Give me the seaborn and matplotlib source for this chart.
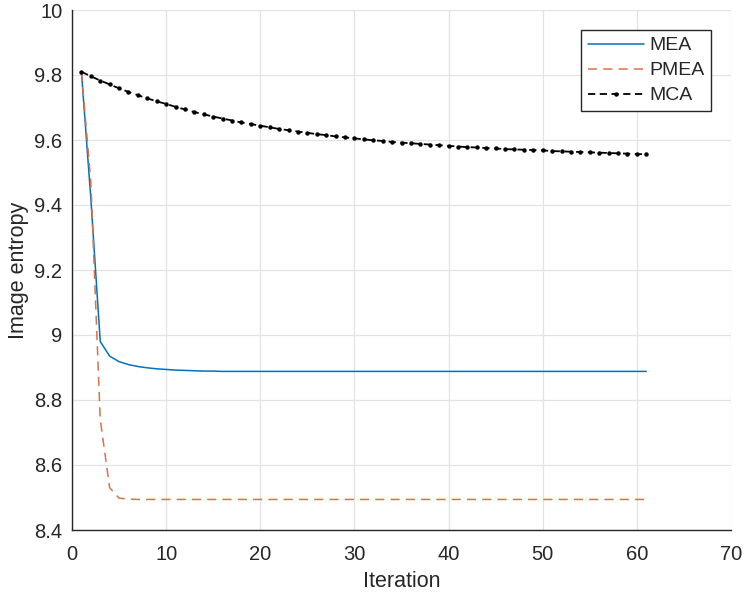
import matplotlib
matplotlib.use("Agg")
import matplotlib.pyplot as plt
import seaborn as sns
from matplotlib.ticker import FixedLocator, FixedFormatter

# 데이터
iteration = list(range(1, 62))

mea = [9.810, 9.420, 8.980, 8.935, 8.918, 8.909, 8.903, 8.899, 8.896, 8.894,
       8.892, 8.891, 8.890, 8.889, 8.889, 8.888, 8.888, 8.888, 8.888, 8.888,
       8.888, 8.888, 8.888, 8.888, 8.888, 8.888, 8.888, 8.888, 8.888, 8.888,
       8.888, 8.888, 8.888, 8.888, 8.888, 8.888, 8.888, 8.888, 8.888, 8.888,
       8.888, 8.888, 8.888, 8.888, 8.888, 8.888, 8.888, 8.888, 8.888, 8.888,
       8.888, 8.888, 8.888, 8.888, 8.888, 8.888, 8.888, 8.888, 8.888, 8.888,
       8.888]

pmea = [9.810, 9.470, 8.740, 8.530, 8.498, 8.495, 8.494, 8.494, 8.494, 8.494,
        8.494, 8.494, 8.494, 8.494, 8.494, 8.494, 8.494, 8.494, 8.494, 8.494,
        8.494, 8.494, 8.494, 8.494, 8.494, 8.494, 8.494, 8.494, 8.494, 8.494,
        8.494, 8.494, 8.494, 8.494, 8.494, 8.494, 8.494, 8.494, 8.494, 8.494,
        8.494, 8.494, 8.494, 8.494, 8.494, 8.494, 8.494, 8.494, 8.494, 8.494,
        8.494, 8.494, 8.494, 8.494, 8.494, 8.494, 8.494, 8.494, 8.494, 8.494,
        8.494]

mca = [9.810, 9.796, 9.783, 9.771, 9.759, 9.748, 9.738, 9.728, 9.719, 9.711,
       9.702, 9.694, 9.686, 9.679, 9.672, 9.666, 9.660, 9.654, 9.649, 9.644,
       9.639, 9.634, 9.630, 9.626, 9.622, 9.618, 9.615, 9.611, 9.608, 9.605,
       9.602, 9.599, 9.597, 9.594, 9.592, 9.590, 9.588, 9.586, 9.584, 9.582,
       9.580, 9.578, 9.577, 9.575, 9.574, 9.572, 9.571, 9.570, 9.569, 9.568,
       9.566, 9.565, 9.564, 9.563, 9.562, 9.561, 9.560, 9.559, 9.558, 9.557,
       9.556]

x_ticks = [0, 10, 20, 30, 40, 50, 60, 70]
y_ticks = [8.4, 8.6, 8.8, 9.0, 9.2, 9.4, 9.6, 9.8, 10.0]
y_tick_labels = ['8.4', '8.6', '8.8', '9', '9.2', '9.4', '9.6', '9.8', '10']

sns.set_style('white')
plt.rcParams['font.family'] = ['Liberation Sans', 'DejaVu Sans']

fig = plt.figure(figsize=(7.5, 5.96), dpi=100)
ax = fig.add_axes([72 / 750, 1 - 530 / 596, 659 / 750, 520 / 596])

sns.lineplot(x=iteration, y=mea, ax=ax, color='#0072BD', linewidth=1.1, label='MEA')
sns.lineplot(x=iteration, y=pmea, ax=ax, color='#D9724A', linewidth=1.1, label='PMEA')
ax.lines[-1].set_dashes((6, 4))
sns.lineplot(x=iteration, y=mca, ax=ax, color='black', linewidth=1.3,
             marker='o', markersize=3.2, markeredgewidth=0, label='MCA')
ax.lines[-1].set_dashes((4, 2.5))

ax.set_xlim(0, 70)
ax.set_ylim(8.4, 10)
ax.xaxis.set_major_locator(FixedLocator(x_ticks))
ax.yaxis.set_major_locator(FixedLocator(y_ticks))
ax.yaxis.set_major_formatter(FixedFormatter(y_tick_labels))

ax.grid(True, color='#e3e3e3', linewidth=0.9)
ax.set_axisbelow(True)
for side in ['top', 'right']:
    ax.spines[side].set_visible(False)
for side in ['left', 'bottom']:
    ax.spines[side].set_color('#262626')
    ax.spines[side].set_linewidth(1.0)

ax.tick_params(direction='in', length=4, width=0.8, color='#262626',
               labelsize=14.5, labelcolor='#262626', pad=7)
ax.tick_params(axis='x', pad=11)

ax.set_xlabel('Iteration', fontsize=15.5, color='#262626', labelpad=5)
ax.set_ylabel('Image entropy', fontsize=15.5, color='#262626', labelpad=4)

leg = ax.legend(loc='upper right', bbox_to_anchor=(0.9697, 0.9615),
                borderaxespad=0, fontsize=14, frameon=True, fancybox=False,
                framealpha=1, edgecolor='#262626', handlelength=2.9,
                handletextpad=0.25, labelspacing=0.38, borderpad=0.35)
leg.get_frame().set_linewidth(1.0)

fig.savefig('out.png', dpi=100)
